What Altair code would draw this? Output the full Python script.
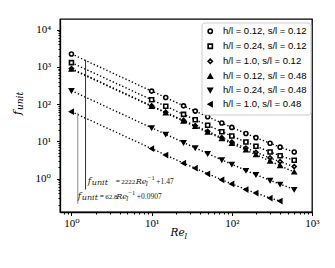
import altair as alt
import pandas as pd

# ---- data ----
re_values = [1, 10, 15, 25, 35, 50, 75, 100, 150, 200, 300, 400, 600]
series_labels = [
    "h/l = 0.12, s/l = 0.12",
    "h/l = 0.24, s/l = 0.12",
    "h/l = 1.0, s/l = 0.12",
    "h/l = 0.12, s/l = 0.48",
    "h/l = 0.24, s/l = 0.48",
    "h/l = 1.0, s/l = 0.48",
]
series_shapes = ["circle", "square", "diamond", "triangle-up", "triangle-down", "triangle-left"]
series_fills = ["white", "white", "white", "black", "black", "black"]
series_strokes = ["black"] * 6
f_circle = [2223, 224, 150, 90, 65, 46, 31, 23.7, 16.3, 12.6, 8.9, 7.0, 5.2]
f_square = [1300, 131, 88, 53, 38, 27, 18.2, 13.9, 9.6, 7.4, 5.2, 4.1, 3.1]
f_diamond = [900, 90, 60.6, 36.6, 26.3, 18.6, 12.6, 9.6, 6.6, 5.1, 3.6, 2.85, 2.1]
f_tri_up = [870, 87, 58, 35, 25, 17.5, 11.7, 8.75, 5.85, 4.4, 2.95, 2.23, 1.5]
f_tri_down = [230, 23.1, 15.5, 9.3, 6.7, 4.7, 3.2, 2.43, 1.66, 1.28, 0.9, 0.71, 0.51]
f_tri_left = [62.8, 6.4, 4.3, 2.6, 1.9, 1.35, 0.93, 0.72, 0.51, 0.41, 0.30, 0.25]
all_series = [f_circle, f_square, f_diamond, f_tri_up, f_tri_down, f_tri_left]

x_major = [1, 10, 100, 1000]
y_major = [1, 10, 100, 1000, 10000]
x_minor = [0.8, 0.9] + [m * 10 ** k for k in range(0, 3) for m in range(2, 10)]
y_minor = [m * 10 ** k for k in range(-1, 4) for m in range(2, 10) if m * 10 ** k > 0.127]

# annotation guide lines
ann_x = [1.5, 1.2]
ann_top = [1550, 59]
ann_bottom = [0.51, 0.21]
ann_color = ["#333333", "#8a8a8a"]

# formula annotations: anchor (data coords) and text pieces
formula_anchor_x = [1.6, 1.2]
formula_anchor_y = [0.734, 0.291]
formula_pieces = [
    # (text, dx, dy, font size, italic)
    [("f", 0, 0, 9, True), ("unit", 4, 1.5, 8, True), ("=", 28, 0, 7.5, False),
     ("2222", 33.5, 0, 7, False), ("Re", 48, 0, 8, True), ("l", 58, 2.5, 6.5, True),
     ("−1", 60, -4, 6.5, False), ("+1.47", 68.5, 0, 7.5, False)],
    [("f", 0, 0, 9, True), ("unit", 4, 1.5, 8, True), ("=", 22, 0, 7.5, False),
     ("62.8", 27.5, 0, 7, False), ("Re", 38.5, 0, 8, True), ("l", 48.5, 2.5, 6.5, True),
     ("−1", 50.5, -4, 6.5, False), ("+0.0907", 59, 0, 7.5, False)],
]

rows = []
for lab, vals in zip(series_labels, all_series):
    for r, f in zip(re_values, vals):
        rows.append({"Re": r, "f": f, "series": lab})
df = pd.DataFrame(rows)
ann_df = pd.DataFrame({"x": ann_x, "y1": ann_top, "y2": ann_bottom, "c": ann_color})

W, H = 252, 193
SERIF = "Liberation Serif, DejaVu Serif"
MATH = "DejaVu Serif"
label_expr = "'10' + ['⁰','¹','²','³','⁴'][round(log(datum.value)/LN10)]"

xs = alt.Scale(type="log", domain=[0.72, 1000], nice=False)
ys = alt.Scale(type="log", domain=[0.127, 19300], nice=False)

lines = alt.Chart(df).mark_line(color="black", strokeWidth=1.4, strokeDash=[1.3, 2.2]).encode(
    x=alt.X("Re:Q", scale=xs, axis=alt.Axis(
        values=x_major, labelExpr=label_expr, title=None, grid=False,
        tickSize=3.5, labelPadding=2, labelFlush=False, labelOverlap=False, labelBound=False)),
    y=alt.Y("f:Q", scale=ys, axis=alt.Axis(
        values=y_major, labelExpr=label_expr, title=None, grid=False,
        tickSize=3.5, labelPadding=6, labelFlush=False, labelOverlap=False, labelBound=False)),
    detail="series:N",
)

leg = alt.Legend(title=None, orient="none", legendX=141.5, legendY=3.5)
points = alt.Chart(df).mark_point(filled=False, strokeWidth=1.6, size=16, opacity=1).encode(
    x=alt.X("Re:Q", scale=xs, axis=alt.Axis(
        values=x_minor, labels=False, title=None, grid=False, domain=False,
        tickSize=2, orient="bottom")),
    y=alt.Y("f:Q", scale=ys, axis=alt.Axis(
        values=y_minor, labels=False, title=None, grid=False, domain=False,
        tickSize=2, orient="left")),
    shape=alt.Shape("series:N", scale=alt.Scale(domain=series_labels, range=series_shapes),
                    sort=series_labels, legend=leg),
    fill=alt.Fill("series:N", scale=alt.Scale(domain=series_labels, range=series_fills),
                  sort=series_labels, legend=leg),
    stroke=alt.Stroke("series:N", scale=alt.Scale(domain=series_labels, range=series_strokes),
                      sort=series_labels, legend=leg),
)

rules = alt.Chart(ann_df).mark_rule(strokeWidth=1).encode(
    x=alt.X("x:Q", scale=xs, axis=None),
    y=alt.Y("y1:Q", scale=ys, axis=None),
    y2="y2:Q",
    color=alt.Color("c:N", scale=None),
)

layers = [lines, points, rules]
for ax, ay, pieces in zip(formula_anchor_x, formula_anchor_y, formula_pieces):
    pdf = pd.DataFrame({"x": [ax], "y": [ay]})
    for txt, dx, dy, fs, it in pieces:
        layers.append(
            alt.Chart(pdf).mark_text(
                align="left", baseline="alphabetic", dx=dx, dy=dy, fontSize=fs,
                font=MATH if it else SERIF, fontStyle="italic" if it else "normal",
                color="#222222", text=txt,
            ).encode(x=alt.X("x:Q", scale=xs, axis=None), y=alt.Y("y:Q", scale=ys, axis=None))
        )

# axis titles (f_unit rotated on the left, Re_l below)
title_df = pd.DataFrame({"k": [0]})
def title_piece(txt, x, y, fs, angle=0, dx=0, dy=0):
    return alt.Chart(title_df).mark_text(
        align="left", baseline="alphabetic", font=MATH, fontStyle="italic", fontSize=fs,
        color="black", angle=angle, dx=dx, dy=dy, text=txt,
    ).encode(x=alt.value(x), y=alt.value(y))

layers += [
    title_piece("f", -39, 96, 11.5, angle=270),
    title_piece("unit", -39, 96, 9, angle=270, dx=5, dy=2),
    title_piece("Re", 110.5, 217, 10.5),
    title_piece("l", 110.5, 217, 8, dx=14, dy=3),
]

chart = alt.layer(*layers).resolve_axis(x="independent", y="independent").properties(
    width=W, height=H,
    autosize=alt.AutoSizeParams(type="none"),
    padding={"left": 52, "top": 11, "right": 15, "bottom": 48},
).configure_view(stroke="black", strokeWidth=1.3).configure_axis(
    labelFont=SERIF, labelFontSize=11, labelColor="black",
    domainColor="black", domainWidth=1.3, tickColor="black", tickWidth=1,
).configure_legend(
    labelFont="Liberation Sans, DejaVu Sans", labelFontSize=9.5, labelColor="black",
    symbolStrokeWidth=1.6, symbolSize=18,
    strokeColor="#cccccc", fillColor="white", cornerRadius=3, padding=4,
    rowPadding=3, labelOffset=8,
)

chart.save("out.html", embed_options={"renderer": "svg", "actions": False})
